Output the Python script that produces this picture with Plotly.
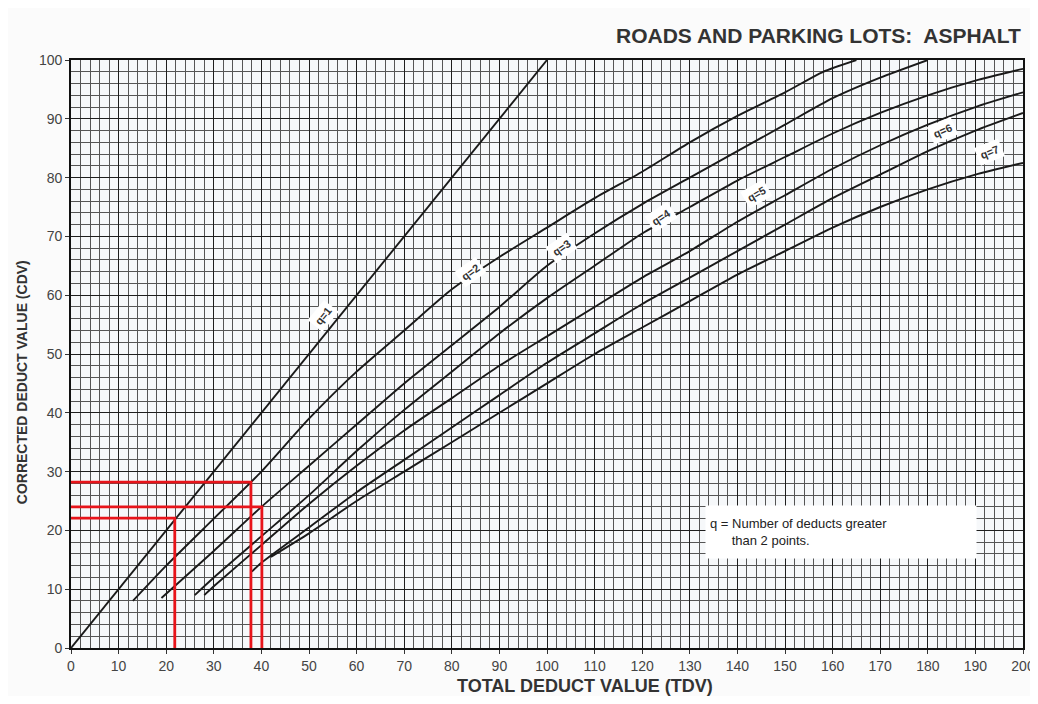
import numpy as np
import plotly.graph_objects as go

# total deduct value (TDV) -> corrected deduct value (CDV), one curve per q
q1_tdv = [0, 100]
q1_cdv = [0, 100]

q2_tdv = [13, 20, 30, 40, 50, 60, 70, 80, 90, 100, 110, 120, 130, 140, 150, 158, 165]
q2_cdv = [8, 14, 22, 30, 39, 47, 54, 61, 66.5, 71.5, 76.5, 81, 86, 90.5, 94.5, 98, 100]

q3_tdv = [19, 30, 40, 50, 60, 70, 80, 90, 100, 110, 120, 130, 140, 150, 160, 170, 180]
q3_cdv = [8.5, 16.5, 24, 31, 38, 45, 51.5, 58, 65, 70.5, 75.5, 80, 84.5, 89, 93.5, 97, 100]

q4_tdv = [26, 30, 40, 50, 60, 70, 80, 90, 100, 110, 120, 130, 140, 150, 160, 170, 180, 190, 200]
q4_cdv = [9, 12, 19, 26, 33.5, 40.5, 47, 53.5, 59.5, 65, 70.5, 75, 79.5, 83.5, 87.5, 91, 94, 96.5, 98.5]

q5_tdv = [28, 30, 40, 50, 60, 70, 80, 90, 100, 110, 120, 130, 140, 150, 160, 170, 180, 190, 200]
q5_cdv = [9, 10.5, 17.5, 24.5, 31, 37, 42.5, 48, 53, 58, 63, 67.5, 72.5, 77, 81.5, 85.5, 89, 92, 94.5]

q6_tdv = [38, 40, 50, 60, 70, 80, 90, 100, 110, 120, 130, 140, 150, 160, 170, 180, 190, 200]
q6_cdv = [13, 14.5, 20.5, 26.5, 32, 37.5, 43, 48.5, 53.5, 58.5, 63, 67.5, 72, 76.5, 80.5, 84.5, 88, 91]

q7_tdv = [42, 50, 60, 70, 80, 90, 100, 110, 120, 130, 140, 150, 160, 170, 180, 190, 200]
q7_cdv = [15.5, 19.5, 25, 30, 35, 40, 45, 50, 54.5, 59, 63.5, 67.5, 71.5, 75, 78, 80.5, 82.5]

curves = {
    "q=1": (q1_tdv, q1_cdv),
    "q=2": (q2_tdv, q2_cdv),
    "q=3": (q3_tdv, q3_cdv),
    "q=4": (q4_tdv, q4_cdv),
    "q=5": (q5_tdv, q5_cdv),
    "q=6": (q6_tdv, q6_cdv),
    "q=7": (q7_tdv, q7_cdv),
}

# curve labels: TDV where they sit, slant (deg) and how far above the curve (px)
label_tdv = {"q=1": 53, "q=2": 84, "q=3": 103, "q=4": 124, "q=5": 144, "q=6": 183, "q=7": 193}
label_angle = {"q=1": -51, "q=2": -36, "q=3": -35, "q=4": -33, "q=5": -30, "q=6": -24, "q=7": -22}
label_lift = {"q=1": 20, "q=2": 4, "q=3": 8, "q=4": 6, "q=5": 17, "q=6": 14, "q=7": 19}

# red worked-example read-offs
red_tdv = [21.8, 37.8, 40.1]
red_cdv = [22.1, 28.2, 24.0]

x_ticks = list(range(0, 201, 10))
y_ticks = list(range(0, 101, 10))

fig = go.Figure()

for name, (xs, ys) in curves.items():
    fig.add_trace(go.Scatter(x=xs, y=ys, mode="lines", name=name,
                             line=dict(color="#1a1a1a", width=1.9, shape="spline", smoothing=0.6),
                             showlegend=False, hoverinfo="skip"))

for t, c in zip(red_tdv, red_cdv):
    fig.add_trace(go.Scatter(x=[0, t, t], y=[c, c, 0], mode="lines",
                             line=dict(color="#e8141b", width=2.8),
                             showlegend=False, hoverinfo="skip"))

for name, (xs, ys) in curves.items():
    lx = label_tdv[name]
    ly = float(np.interp(lx, xs, ys))
    fig.add_annotation(x=lx, y=ly, yshift=label_lift[name], text="<b>" + name + "</b>",
                       showarrow=False, textangle=label_angle[name],
                       font=dict(family="Liberation Sans Narrow, Arial", size=11, color="#333"),
                       bgcolor="white", borderpad=3)

fig.add_annotation(x=133.2, y=24.3, xanchor="left", yanchor="top", align="left", valign="middle",
                   width=262, height=44, showarrow=False,
                   text="q = Number of deducts greater<br>      than 2 points.",
                   font=dict(family="Liberation Sans Narrow, Arial", size=13, color="#222"),
                   bgcolor="white", borderpad=4)

fig.add_annotation(xref="paper", yref="paper", x=1.0, y=1.0, yshift=25, xanchor="right", yanchor="middle",
                   text="<b>ROADS AND PARKING LOTS:  ASPHALT</b>", showarrow=False,
                   font=dict(family="Liberation Sans, Arial", size=21, color="#333"))

fig.add_annotation(xref="paper", yref="paper", x=0.54, y=0, yshift=-38, xanchor="center", yanchor="middle",
                   text="<b>TOTAL DEDUCT VALUE (TDV)</b>", showarrow=False,
                   font=dict(family="Liberation Sans, Arial", size=18, color="#333"))

fig.add_annotation(xref="paper", yref="paper", x=0, y=0.452, xshift=-49, xanchor="center", yanchor="middle",
                   text="<b>CORRECTED DEDUCT VALUE (CDV)</b>", showarrow=False, textangle=-90,
                   font=dict(family="Liberation Sans, Arial", size=14, color="#333"))

axis_common = dict(
    showline=True, mirror=True, linecolor="#111", linewidth=1.6,
    showgrid=True, gridcolor="#1e1e1e", gridwidth=1.4,
    ticks="outside", ticklen=4, tickcolor="#333",
    tickfont=dict(family="Liberation Sans, Arial", size=14, color="#444"),
    ticklabeloverflow="allow", automargin=False,
    zeroline=False,
)

fig.update_xaxes(range=[0, 200], tickvals=x_ticks, **axis_common,
                 minor=dict(dtick=2, showgrid=True, gridcolor="#555", gridwidth=1))
fig.update_yaxes(range=[0, 100], tickvals=y_ticks, **axis_common,
                 minor=dict(dtick=2, showgrid=True, gridcolor="#555", gridwidth=1))

# page body adds an 8px margin, so the figure is sized to fit inside the window
fig.update_layout(
    width=1022, height=688,
    margin=dict(l=63, r=7, t=52, b=48),
    paper_bgcolor="#fbfbfb",
    plot_bgcolor="#f6f8fa",
)

fig.write_html("out.html")
